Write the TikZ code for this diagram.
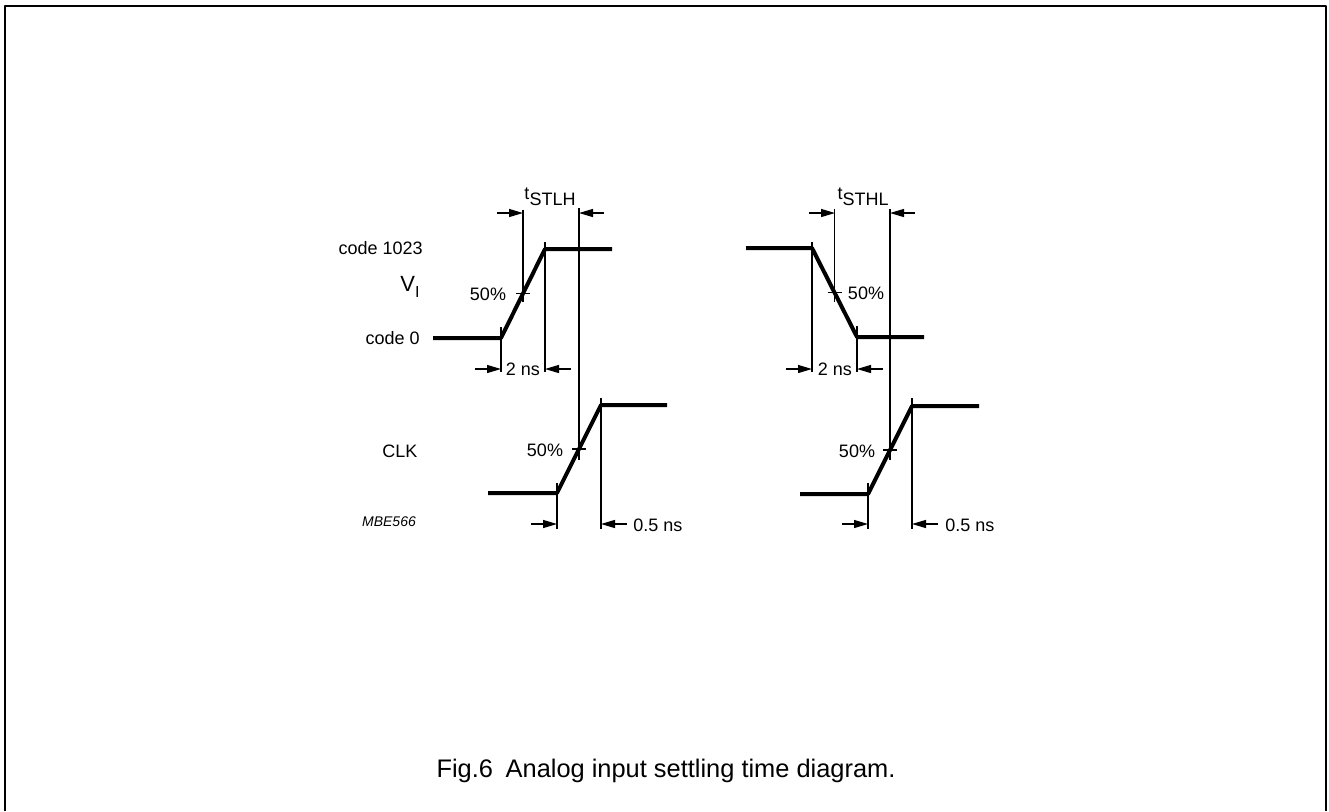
\documentclass[tikz,border=0pt]{standalone}
\usepackage{fontspec}
\setmainfont{Liberation Sans}
\usetikzlibrary{arrows.meta}
\newcommand{\tsub}[2]{#1\raisebox{-3pt}{#2}}
\begin{document}
\begin{tikzpicture}[x=.5pt, y=-.5pt, font=\fontsize{9}{10}\selectfont, line join=round, >={Triangle[length=7pt,width=4pt]},
	sig/.style={line width=2pt},
	thin/.style={line width=.6pt},
	lbl/.style={inner sep=0pt}]
	\useasboundingbox (0,0) rectangle (1329,811);
	\draw[line width=1pt] (5,811)--(5,6)--(1326,6)--(1326,811);
	\path (433,338) coordinate (A0) (501,338) coordinate (A1) (545,249) coordinate (A2) (612,249) coordinate (A3)
	(746,248) coordinate (B0) (812,248) coordinate (B1) (857,337) coordinate (B2) (924,337) coordinate (B3)
	(488,493) coordinate (C0) (557,493) coordinate (C1) (601,405) coordinate (C2) (667,405) coordinate (C3)
	(800,494) coordinate (D0) (868,494) coordinate (D1) (912,406) coordinate (D2) (979,406) coordinate (D3);
	\path (523,293.5) coordinate (Am) (834.5,292.5) coordinate (Bm)
	(579,449) coordinate (Cm) (890,450) coordinate (Dm);
	\foreach \s in {A,B,C,D}{
		\draw[sig] (\s0)--(\s1)--(\s2)--(\s3);
		\draw[thin] (\s m)+(-7,0)--+(7,0);
	}
	% extension lines
	\draw[thin] (Am)+(0,-84)--+(0,8.5) (Bm)+(0,-84)--+(0,9.5);
	\draw[thin] (A1)+(0,-11)--(501,372) (A2)+(0,-7)--(545,372)
	(B1)+(0,-6)--(812,372) (B2)+(0,-11)--(857,372)
	(C1)+(0,-10)--(557,529) (C2)+(0,-7)--(601,529)
	(D1)+(0,-11)--(868,529) (D2)+(0,-8)--(912,529);
	\draw[thin] (579,208) coordinate (Atop)--(Cm)--+(0,11);
	\draw[thin] (890,209) coordinate (Btop)--(Dm)--+(0,10);
	% dimension arrows
	\foreach \x/\y/\d in {497/213/26, 604/213/-25, 809/213/26, 915/213/-25,
		475/369/26, 571/369/-26, 786/369/26, 883/369/-26,
		531/524/26, 627/524/-26, 842/524/26, 938/524/-26}{
		\draw[thin,->] (\x,\y)--+(\d,0);
	}
	% labels
	\node[lbl, anchor=east] (code1023) at (423,248) {code 1023};
	\node[lbl, anchor=east] (code0) at (420,338) {code 0};
	\node[lbl, font=\fontsize{11}{12}\selectfont] (vin) at (410,287) {\tsub{V}{\fontsize{8}{9}\selectfont I}};
	\node[lbl] (clk) at (400,451) {CLK};
	\node[lbl, font=\fontsize{7}{8}\selectfont\itshape] (mbe) at (389,522) {MBE566};
	\foreach \n/\p in {pa/{(488,294)}, pb/{(866,293)}, pc/{(545,450)}, pd/{(857,451)}}{
		\node[lbl] (\n) at \p {50\%};
	}
	\node[lbl] (tstlh) at (550,197) {\tsub{t}{STLH}};
	\node[lbl] (tsthl) at (863,197) {\tsub{t}{STHL}};
	\node[lbl] (nsa) at (523,369) {2 ns};
	\node[lbl] (nsb) at (835,369) {2 ns};
	\node[lbl, anchor=west] (nsc) at (633,525) {0.5 ns};
	\node[lbl, anchor=west] (nsd) at (945,525) {0.5 ns};
	\node[lbl, font=\fontsize{12.7}{15}\selectfont] (caption) at (666,771) {Fig.6\hspace{0.5em}Analog input settling time diagram.};
\end{tikzpicture}
\end{document}
